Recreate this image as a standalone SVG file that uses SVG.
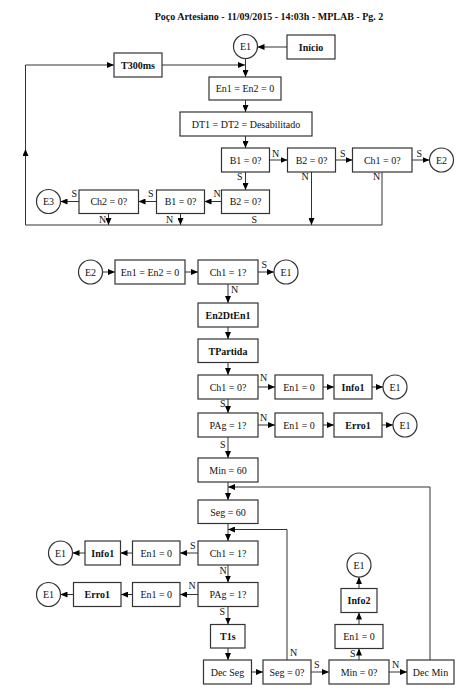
<svg xmlns="http://www.w3.org/2000/svg" width="467" height="697" viewBox="0 0 467 697">
<style>
.b{fill:#fff;stroke:#333;stroke-width:1.2}
.t{font-family:"Liberation Serif","Times New Roman",serif;font-size:10px;fill:#111;text-anchor:middle}
.bd{font-weight:bold}
.l{font-family:"Liberation Serif","Times New Roman",serif;font-size:10px;fill:#111}
.c{fill:none;stroke:#333;stroke-width:1}
</style>
<defs>
<marker id="ah" markerUnits="userSpaceOnUse" markerWidth="7" markerHeight="6" refX="7" refY="3" orient="auto">
<path d="M0,0 L7,3 L0,6 z" fill="#000"/>
</marker>
</defs>
<rect width="467" height="697" fill="#fff"/>
<text class="t bd" x="269" y="20">Poço Artesiano - 11/09/2015 - 14:03h - MPLAB - Pg. 2</text>

<g id="connectors" class="c" marker-end="url(#ah)">
<path d="M287,47 H257.5"/>
<path d="M245.5,58.5 V77"/>
<path d="M162,65 H245"/>
<path d="M245.5,100 V112"/>
<path d="M245.5,136 V148"/>
<path d="M269.5,160 H287.5"/>
<path d="M335.5,160 H352.5"/>
<path d="M412,160 H429.5"/>
<path d="M245.5,172 V190"/>
<path d="M221.5,201.5 H204.5"/>
<path d="M156.5,201.5 H138.5"/>
<path d="M79,201.5 H60.5"/>
<path d="M108.5,213.5 V225"/>
<path d="M180.5,213.5 V225"/>
<path d="M311.5,172 V225"/>
<path d="M382,172 V225 H25.5 V149"/>
<path d="M25.5,150 V65 H114"/>

<path d="M102.5,272 H115"/>
<path d="M185,272 H198"/>
<path d="M258,272 H274"/>
<path d="M228,284 V303"/>
<path d="M228,327 V339"/>
<path d="M228,362.5 V375"/>
<path d="M258,387 H275"/>
<path d="M323,387 H334"/>
<path d="M372,387 H383"/>
<path d="M228,399 V413"/>
<path d="M258,425 H275"/>
<path d="M323,425 H334"/>
<path d="M382,425 H393"/>
<path d="M228,437 V458"/>
<path d="M228,482 V500"/>
<path d="M430,660 V487 H228"/>
<path d="M228,523.5 V541"/>
<path d="M287,660 V529.5 H228"/>
<path d="M198,553 H180"/>
<path d="M132.5,553 H120.5"/>
<path d="M85,553 H72.5"/>
<path d="M228,565 V582.5"/>
<path d="M198,594.5 H180"/>
<path d="M132.5,594.5 H121"/>
<path d="M73.5,594.5 H60.5"/>
<path d="M228,606.5 V624.5"/>
<path d="M228,648 V660"/>
<path d="M251.5,672 H263"/>
<path d="M311,672 H329"/>
<path d="M389,672 H407"/>
<path d="M359,660 V648.5"/>
<path d="M359,624.5 V612.5"/>
<path d="M359,588.5 V577"/>
</g>

<g id="labels" class="l">
<text x="272" y="156.5">N</text>
<text x="340" y="156.5">S</text>
<text x="416.5" y="156.5">S</text>
<text x="237" y="180">S</text>
<text x="301.5" y="180">N</text>
<text x="373" y="180">N</text>
<text x="213.5" y="197">N</text>
<text x="148" y="197">S</text>
<text x="71.5" y="197">S</text>
<text x="99" y="223">N</text>
<text x="166" y="223">N</text>
<text x="251.5" y="222.5">S</text>
<text x="261.5" y="268">S</text>
<text x="231" y="293">N</text>
<text x="260" y="381">N</text>
<text x="220" y="407">S</text>
<text x="260" y="421">N</text>
<text x="220" y="448">S</text>
<text x="190" y="549">S</text>
<text x="219.5" y="574">N</text>
<text x="188.5" y="589">N</text>
<text x="219.5" y="615">S</text>
<text x="290" y="656">N</text>
<text x="314" y="668">S</text>
<text x="392" y="668">N</text>
<text x="350" y="657">S</text>
</g>

<g id="n-inicio"><rect class="b" x="287" y="35" width="48" height="24"/><text class="t bd" x="311" y="50.5">Início</text></g>
<g id="n-e1a"><circle class="b" cx="245.5" cy="46.5" r="12"/><text class="t" x="245.5" y="50">E1</text></g>
<g id="n-t300"><rect class="b" x="114" y="53" width="48" height="24"/><text class="t bd" x="138" y="68.5">T300ms</text></g>
<g id="n-en12a"><rect class="b" x="209" y="77" width="72" height="23"/><text class="t" x="245" y="92">En1 = En2 = 0</text></g>
<g id="n-dt"><rect class="b" x="180" y="112" width="132" height="24"/><text class="t" x="246" y="127.5">DT1 = DT2 = Desabilitado</text></g>
<g id="n-b1a"><rect class="b" x="221.5" y="148" width="48" height="24"/><text class="t" x="245.5" y="163.5">B1 = 0?</text></g>
<g id="n-b2a"><rect class="b" x="287.5" y="148" width="48" height="24"/><text class="t" x="311.5" y="163.5">B2 = 0?</text></g>
<g id="n-ch1a"><rect class="b" x="352.5" y="148" width="59.5" height="24"/><text class="t" x="382.25" y="163.5">Ch1 = 0?</text></g>
<g id="n-e2a"><circle class="b" cx="441.5" cy="160" r="12"/><text class="t" x="441.5" y="163.5">E2</text></g>
<g id="n-b2b"><rect class="b" x="221.5" y="190" width="48" height="23.5"/><text class="t" x="245.5" y="205">B2 = 0?</text></g>
<g id="n-b1b"><rect class="b" x="156.5" y="190" width="48" height="23.5"/><text class="t" x="180.5" y="205">B1 = 0?</text></g>
<g id="n-ch2"><rect class="b" x="79" y="190" width="59.5" height="23.5"/><text class="t" x="108.75" y="205">Ch2 = 0?</text></g>
<g id="n-e3"><circle class="b" cx="48.5" cy="201.5" r="12"/><text class="t" x="48.5" y="205">E3</text></g>

<g id="n-e2b"><circle class="b" cx="90.5" cy="272" r="12"/><text class="t" x="90.5" y="275.5">E2</text></g>
<g id="n-en12b"><rect class="b" x="115" y="260" width="70" height="24"/><text class="t" x="150" y="275.5">En1 = En2 = 0</text></g>
<g id="n-ch1b"><rect class="b" x="198" y="260" width="60" height="24"/><text class="t" x="228" y="275.5">Ch1 = 1?</text></g>
<g id="n-e1b"><circle class="b" cx="286" cy="272" r="12"/><text class="t" x="286" y="275.5">E1</text></g>
<g id="n-en2dt"><rect class="b" x="198" y="303" width="60" height="24"/><text class="t bd" x="228" y="318.5">En2DtEn1</text></g>
<g id="n-tpart"><rect class="b" x="198" y="339" width="60" height="23.5"/><text class="t bd" x="228" y="354.5">TPartida</text></g>
<g id="n-ch1c"><rect class="b" x="198" y="375" width="60" height="24"/><text class="t" x="228" y="390.5">Ch1 = 0?</text></g>
<g id="n-en1c"><rect class="b" x="275" y="375" width="48" height="24"/><text class="t" x="299" y="390.5">En1 = 0</text></g>
<g id="n-info1a"><rect class="b" x="334" y="375" width="38" height="24"/><text class="t bd" x="353" y="390.5">Info1</text></g>
<g id="n-e1c"><circle class="b" cx="395" cy="387" r="12"/><text class="t" x="395" y="390.5">E1</text></g>
<g id="n-pag1"><rect class="b" x="198" y="413" width="60" height="24"/><text class="t" x="228" y="428.5">PAg = 1?</text></g>
<g id="n-en1d"><rect class="b" x="275" y="413" width="48" height="24"/><text class="t" x="299" y="428.5">En1 = 0</text></g>
<g id="n-erro1a"><rect class="b" x="334" y="413" width="48" height="24"/><text class="t bd" x="358" y="428.5">Erro1</text></g>
<g id="n-e1d"><circle class="b" cx="405" cy="425" r="12"/><text class="t" x="405" y="428.5">E1</text></g>
<g id="n-min60"><rect class="b" x="198" y="458" width="60" height="24"/><text class="t" x="228" y="473.5">Min = 60</text></g>
<g id="n-seg60"><rect class="b" x="198" y="500" width="60" height="23.5"/><text class="t" x="228" y="515.5">Seg = 60</text></g>
<g id="n-ch1d"><rect class="b" x="198" y="541" width="60" height="24"/><text class="t" x="228" y="556.5">Ch1 = 1?</text></g>
<g id="n-en1e"><rect class="b" x="132.5" y="541" width="47.5" height="24"/><text class="t" x="156.25" y="556.5">En1 = 0</text></g>
<g id="n-info1b"><rect class="b" x="85" y="541" width="35.5" height="24"/><text class="t bd" x="102.75" y="556.5">Info1</text></g>
<g id="n-e1e"><circle class="b" cx="60.5" cy="553" r="12"/><text class="t" x="60.5" y="556.5">E1</text></g>
<g id="n-pag2"><rect class="b" x="198" y="582.5" width="60" height="24"/><text class="t" x="228" y="598">PAg = 1?</text></g>
<g id="n-en1f"><rect class="b" x="132.5" y="582.5" width="47.5" height="24"/><text class="t" x="156.25" y="598">En1 = 0</text></g>
<g id="n-erro1b"><rect class="b" x="73.5" y="582.5" width="47.5" height="24"/><text class="t bd" x="97.25" y="598">Erro1</text></g>
<g id="n-e1f"><circle class="b" cx="48.5" cy="594.5" r="12"/><text class="t" x="48.5" y="598">E1</text></g>
<g id="n-t1s"><rect class="b" x="210.5" y="624.5" width="34.5" height="23.5"/><text class="t bd" x="227.75" y="640">T1s</text></g>
<g id="n-decseg"><rect class="b" x="203.5" y="660" width="48" height="24"/><text class="t" x="227.5" y="675.5">Dec Seg</text></g>
<g id="n-seg0"><rect class="b" x="263" y="660" width="48" height="24"/><text class="t" x="287" y="675.5">Seg = 0?</text></g>
<g id="n-min0"><rect class="b" x="329" y="660" width="60" height="24"/><text class="t" x="359" y="675.5">Min = 0?</text></g>
<g id="n-decmin"><rect class="b" x="407" y="660" width="47" height="24"/><text class="t" x="430.5" y="675.5">Dec Min</text></g>
<g id="n-en1g"><rect class="b" x="335" y="624.5" width="48" height="24"/><text class="t" x="359" y="640">En1 = 0</text></g>
<g id="n-info2"><rect class="b" x="341" y="588.5" width="36" height="24"/><text class="t bd" x="359" y="604">Info2</text></g>
<g id="n-e1g"><circle class="b" cx="359" cy="565" r="12"/><text class="t" x="359" y="568.5">E1</text></g>
</svg>
